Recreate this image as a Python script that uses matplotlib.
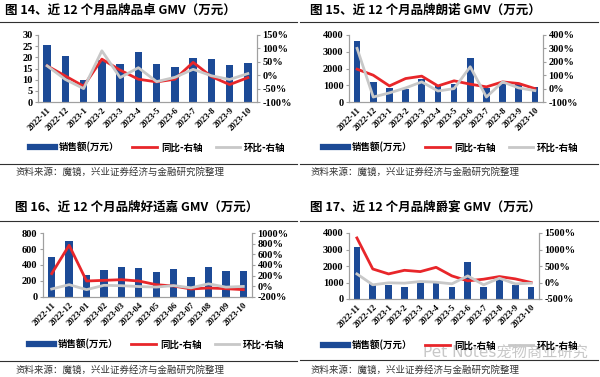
import matplotlib
matplotlib.use("Agg")
import matplotlib.pyplot as plt
from matplotlib.lines import Line2D
from matplotlib.ticker import FuncFormatter
import numpy as np

plt.rcParams['font.family'] = ['Liberation Serif', 'Noto Sans CJK SC', 'DejaVu Sans']

W, H = 600, 377

months_a = ['2022-11', '2022-12', '2023-1', '2023-2', '2023-3', '2023-4',
            '2023-5', '2023-6', '2023-7', '2023-8', '2023-9', '2023-10']
months_b = ['2022-11', '2022-12', '2023-01', '2023-02', '2023-03', '2023-04',
            '2023-05', '2023-06', '2023-07', '2023-08', '2023-09', '2023-10']

# 品卓
pz_gmv = [25.7, 20.5, 10, 19, 17, 22.5, 17, 15.8, 19.7, 19.3, 16.4, 17.4]
pz_yoy = [35, -3, -41, 60, 19, -15, -25, -15, 48, -5, -35, -9]
pz_mom = [35, -16, -50, 91, -9, 28, -24, -8, 22, -2, -16, 6]

# 朗诺
ln_gmv = [3650, 1200, 850, 800, 1350, 1000, 1050, 2650, 850, 1100, 1150, 900]
ln_yoy = [145, 100, 20, 75, 93, 20, 58, 33, 13, 50, 38, 0]
ln_mom = [300, -63, -32, 5, 50, -18, 0, 163, -63, 50, 5, -15]

# 好适嘉
hs_gmv = [500, 700, 270, 335, 375, 360, 310, 355, 255, 380, 325, 320]
hs_yoy = [238, 770, 100, 112, 125, 100, 31, 6, -50, -31, -44, -62]
hs_mom = [-50, 31, -62, 19, 12, -4, -14, 14, -28, 47, -15, -2]

# 爵宴
jy_gmv = [3150, 900, 850, 700, 1000, 1050, 700, 2250, 750, 1400, 850, 700]
jy_yoy = [1350, 410, 260, 370, 330, 460, 200, 50, 100, 180, 110, 0]
jy_mom = [260, -70, -10, -20, 30, 10, -40, 200, -70, 130, -40, -20]

BLUE = '#1C4A96'
RED = '#E8262A'
GRAY = '#C8C8C8'
SPINE = '#A0A0A0'


def box(x0, y0, x1, y1):
    return [x0 / W, 1 - y1 / H, (x1 - x0) / W, (y1 - y0) / H]


fig = plt.figure(figsize=(6, 3.77), dpi=100)


def hline(y, x0, x1):
    fig.add_artist(Line2D([x0 / W, x1 / W], [1 - y / H, 1 - y / H],
                          color='#303030', lw=0.8))


def panel(pos, title, tpos, rules, src, leg, labels, gmv, yoy, mom,
          ylim, yticks, plim, pticks):
    ax = fig.add_axes(box(*pos))
    x = np.arange(len(labels))
    ax.bar(x, gmv, width=0.42, color=BLUE, zorder=2)
    ax.set_xlim(-0.5, len(labels) - 0.5)
    ax.set_ylim(*ylim)
    ax.set_yticks(yticks)
    ax.set_xticks(x)
    ax.set_xticklabels(labels, rotation=45, ha='right', rotation_mode='anchor',
                       fontsize=6.3, fontweight='bold')
    ax.tick_params(axis='y', labelsize=7.5, length=2, color=SPINE, pad=2)
    ax.tick_params(axis='x', length=0, pad=3)
    ax2 = ax.twinx()
    l1, = ax2.plot(x, yoy, color=RED, lw=2)
    l2, = ax2.plot(x, mom, color=GRAY, lw=2)
    ax2.set_ylim(*plim)
    ax2.set_yticks(pticks)
    ax2.yaxis.set_major_formatter(FuncFormatter(lambda v, p: f'{v:.0f}%'))
    ax2.tick_params(axis='y', labelsize=7.5, length=2, color=SPINE, pad=2)
    for a in (ax, ax2):
        a.spines['top'].set_visible(False)
        for s in ('left', 'right', 'bottom'):
            a.spines[s].set_color(SPINE)
            a.spines[s].set_linewidth(0.8)
        for t in a.get_yticklabels():
            t.set_fontweight('bold')
    fig.text(tpos[0] / W, 1 - tpos[1] / H, title, fontsize=9,
             fontweight='bold', va='center', ha='left',
             family=['Noto Sans CJK SC'])
    hline(rules[0], rules[2], rules[3])
    hline(rules[1], rules[2], rules[3])
    fig.text(src[0] / W, 1 - src[1] / H, '资料来源：魔镜，兴业证券经济与金融研究院整理',
             fontsize=6.8, va='center', ha='left', color='#333333',
             family=['Noto Sans CJK SC'])
    handles = [Line2D([], [], color=BLUE, lw=4.5), l1, l2]
    fig.legend(handles, ['销售额(万元）', '同比-右轴', '环比-右轴'],
               loc='center', bbox_to_anchor=(leg[0] / W, 1 - leg[1] / H),
               ncol=3, frameon=False, handlelength=2.6, handletextpad=0.4,
               columnspacing=1.4, borderpad=0.1,
               prop={'family': ['Noto Sans CJK SC'], 'size': 6.8, 'weight': 'bold'})
    return ax


panel((38, 35, 257, 102), '图 14、近 12 个月品牌品卓 GMV（万元）', (5, 10),
      (22, 164, 0, 297), (15, 172), (158, 147), months_a,
      pz_gmv, pz_yoy, pz_mom, (0, 30), range(0, 31, 5),
      (-100, 150), range(-100, 151, 50))

panel((349, 35, 543, 102), '图 15、近 12 个月品牌朗诺 GMV（万元）', (310, 10),
      (22, 164, 300, 598), (310, 172), (451, 147), months_a,
      ln_gmv, ln_yoy, ln_mom, (0, 4000), range(0, 4001, 1000),
      (-100, 400), range(-100, 401, 100))

panel((43, 233, 252, 297), '图 16、近 12 个月品牌好适嘉 GMV（万元）', (15, 207),
      (221, 361, 0, 297), (15, 370), (157, 344), months_b,
      hs_gmv, hs_yoy, hs_mom, (0, 800), range(0, 801, 200),
      (-200, 1000), range(-200, 1001, 200))

panel((349, 233, 539, 299), '图 17、近 12 个月品牌爵宴 GMV（万元）', (310, 207),
      (221, 360, 300, 598), (310, 370), (451, 345), months_a,
      jy_gmv, jy_yoy, jy_mom, (0, 4000), range(0, 4001, 1000),
      (-500, 1500), range(-500, 1501, 500))

# watermark sits over the legend in the original too
fig.text(505 / W, 1 - 352 / H, 'Pet Notes宠物商业研究', fontsize=11,
         color='#909090', alpha=0.5, ha='center', va='center',
         family=['DejaVu Sans', 'Noto Sans CJK SC'])

fig.savefig('out.png', dpi=100)
